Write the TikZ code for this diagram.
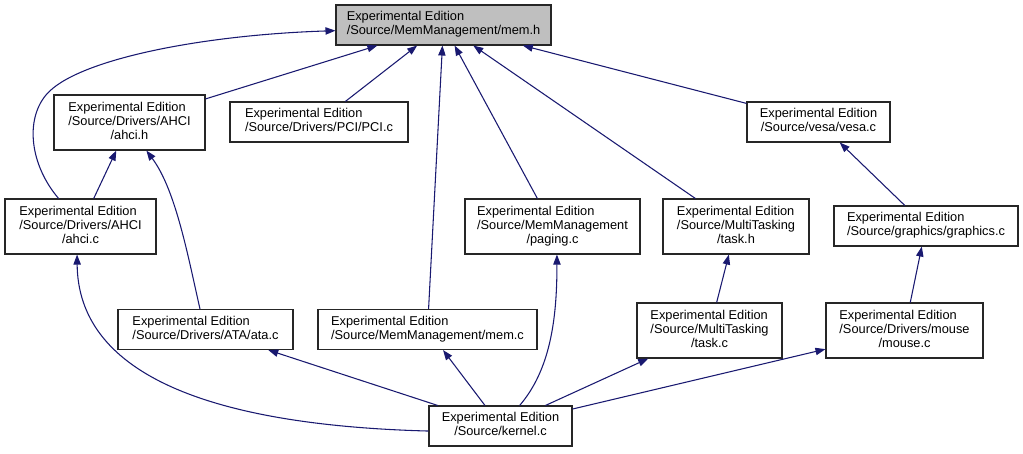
\documentclass[tikz,border=0pt]{standalone}
\usepackage{fontspec}
\setmainfont{Liberation Sans}
\usetikzlibrary{arrows.meta}
\definecolor{EdgeBlue}{RGB}{25,25,112}
\definecolor{HeadGray}{RGB}{191,191,191}
% lines above the last one are set flush left, the last one centred
\newcommand{\flabel}[2]{\begin{tabular}{@{}l@{}}#1\\\multicolumn{1}{@{}c@{}}{#2}\end{tabular}}

\begin{document}
\begin{tikzpicture}[x=0.75pt,y=-0.75pt,
    file/.style={draw=black!85,fill=white,line width=0.8pt,inner sep=0pt,
      minimum height=30pt,font=\fontsize{9.6}{10.7}\selectfont},
    tall/.style={minimum height=41.25pt},
    dep/.style={EdgeBlue,line width=0.8pt,-{Triangle[length=7.5pt,width=5.5pt]}}]
    \useasboundingbox (0,0) rectangle (1023,453);

    % files
    \node[file,fill=HeadGray,minimum width=161.25pt] (memh) at (443.5,25)
      {\flabel{Experimental Edition}{/Source/MemManagement/mem.h}};
    \node[file,tall,minimum width=113.25pt] (ahcih) at (129.5,122.5)
      {\flabel{Experimental Edition\\/Source/Drivers/AHCI}{/ahci.h}};
    \node[file,minimum width=133.5pt] (pcic) at (319,122)
      {\flabel{Experimental Edition}{/Source/Drivers/PCI/PCI.c}};
    \node[file,minimum width=107.25pt] (vesac) at (818.5,122)
      {\flabel{Experimental Edition}{/Source/vesa/vesa.c}};
    \node[file,tall,minimum width=113.25pt] (ahcic) at (80.5,226.5)
      {\flabel{Experimental Edition\\/Source/Drivers/AHCI}{/ahci.c}};
    \node[file,tall,minimum width=131.25pt] (pagingc) at (552.5,226.5)
      {\flabel{Experimental Edition\\/Source/MemManagement}{/paging.c}};
    \node[file,tall,minimum width=109.5pt] (taskh) at (736,226.5)
      {\flabel{Experimental Edition\\/Source/MultiTasking}{/task.h}};
    \node[file,minimum width=138pt] (graphicsc) at (926,226)
      {\flabel{Experimental Edition}{/Source/graphics/graphics.c}};
    \node[file,minimum width=131.25pt] (atac) at (205.5,329.5)
      {\flabel{Experimental Edition}{/Source/Drivers/ATA/ata.c}};
    \node[file,minimum width=164.25pt] (memc) at (427.5,329.5)
      {\flabel{Experimental Edition}{/Source/MemManagement/mem.c}};
    \node[file,tall,minimum width=108.75pt] (taskc) at (709.5,330.5)
      {\flabel{Experimental Edition\\/Source/MultiTasking}{/task.c}};
    \node[file,tall,minimum width=117.75pt] (mousec) at (904.5,330.5)
      {\flabel{Experimental Edition\\/Source/Drivers/mouse}{/mouse.c}};
    \node[file,minimum width=107.25pt] (kernelc) at (500.5,426)
      {\flabel{Experimental Edition}{/Source/kernel.c}};

    % includes
    \draw[dep] (ahcic.128) .. controls (30,165) and (25,120) .. (46,95)
      .. controls (75,60) and (200,35) .. (memh.183);
    \draw[dep] (ahcih) -- (memh);
    \draw[dep] (pcic) -- (memh);
    \draw[dep] (memc) -- (memh);
    \draw[dep] (pagingc) -- (memh);
    \draw[dep] (taskh) -- (memh);
    \draw[dep] (vesac) -- (memh);
    \draw[dep] (ahcic) -- (ahcih);
    \draw[dep] (atac.105) .. controls (188.5,259) and (176,190) .. (ahcih.301);
    \draw[dep] (kernelc.184) .. controls (200,425) and (78,370) .. (ahcic.263);
    \draw[dep] (kernelc) -- (atac);
    \draw[dep] (kernelc) -- (memc);
    \draw[dep] (kernelc.47) .. controls (550,370) and (557,320) .. (pagingc.279);
    \draw[dep] (kernelc) -- (taskc);
    \draw[dep] (kernelc) -- (mousec);
    \draw[dep] (taskc) -- (taskh);
    \draw[dep] (mousec) -- (graphicsc);
    \draw[dep] (graphicsc) -- (vesac);
\end{tikzpicture}
\end{document}
